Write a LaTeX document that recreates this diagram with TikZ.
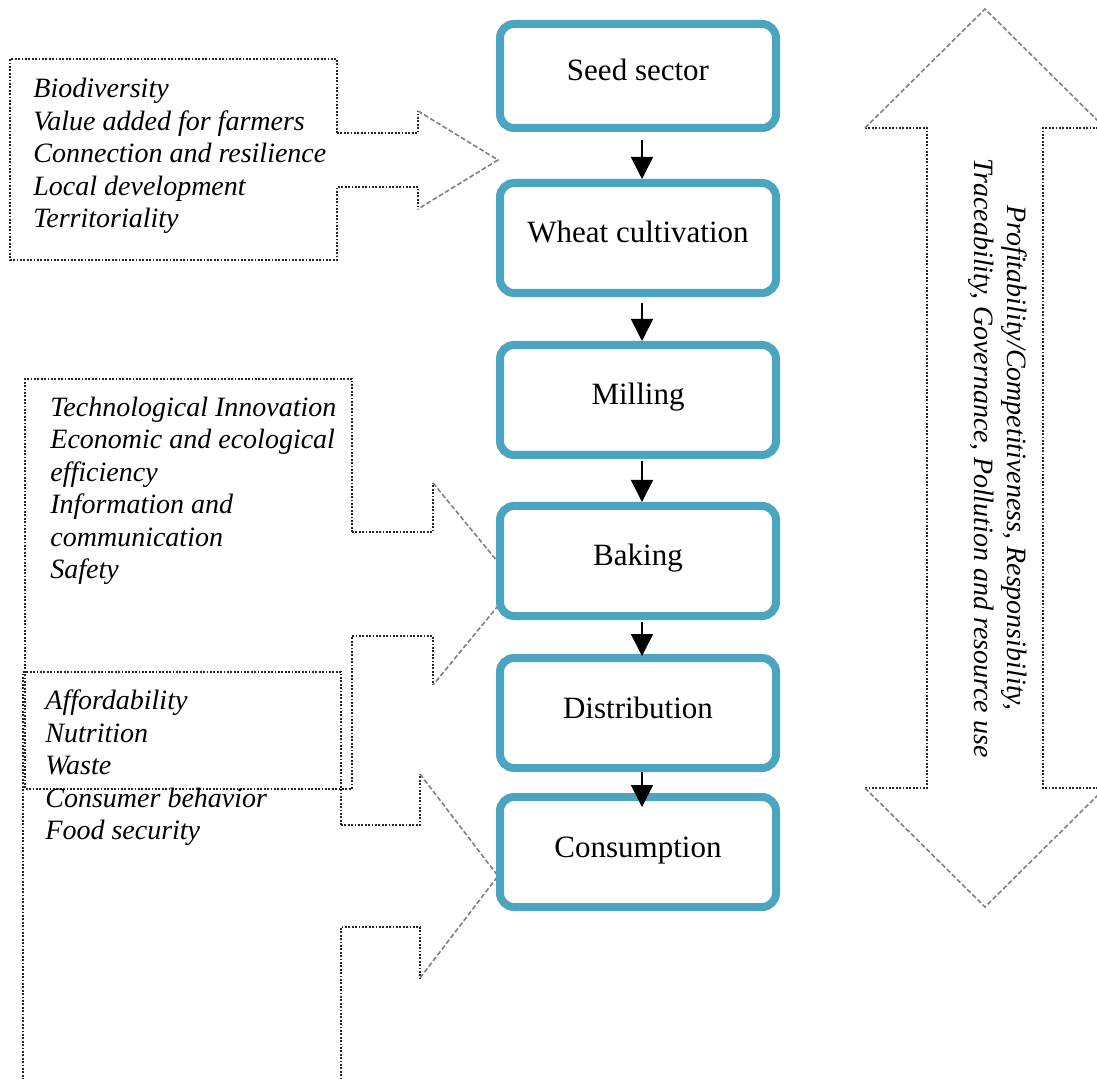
\documentclass[tikz,border=0pt]{standalone}
\usepackage{fontspec}
\setmainfont{Liberation Serif}
\usepackage{tikz}
\usetikzlibrary{arrows.meta}
\definecolor{stageteal}{RGB}{75,165,192}
\newcommand{\ColX}{638}
\newcommand{\ArrowShift}{2pt}
\tikzset{
  stage/.style={
    draw=stageteal,line width=4pt,rounded corners=7pt,fill=white,
    minimum width=138pt,minimum height=55pt,inner sep=0pt,
    text height=11pt,text depth=6pt,
    font=\fontsize{15.5}{18}\selectfont
  },
  flow/.style={
    line width=0.8pt,-{Triangle[width=11pt,length=11pt]}
  },
  calloutline/.style={
    line width=0.9pt,dash pattern=on 0.9pt off 0.8pt,black!85
  },
  calloutdiag/.style={
    line width=0.8pt,dash pattern=on 2.4pt off 1.2pt,black!50
  },
  callouttext/.style={
    anchor=west,align=left,inner sep=0pt,
    font=\fontsize{14}{16.25}\selectfont\itshape
  },
  sidetext/.style={
    align=center,inner sep=0pt,
    font=\fontsize{14}{16.5}\selectfont\itshape
  }
}
\newcommand{\DrawCallout}[9]{%
  \draw[calloutline] (#3,#5-#6) -- (#3,#2) -- (#1,#2) -- (#1,#4) -- (#3,#4)
    -- (#3,#5+#6) -- (#8,#5+#6) -- (#8,#5+#7);
  \draw[calloutline] (#3,#5-#6) -- (#8,#5-#6) -- (#8,#5-#7);
  \draw[calloutdiag] (#8,#5-#7) -- (#9,#5) -- (#8,#5+#7);
}
\newcommand{\DrawBothWays}[7]{%
  \draw[calloutline] (#1-#6,#3) -- (#1-#7,#3) -- (#1-#7,#4) -- (#1-#6,#4);
  \draw[calloutline] (#1+#6,#3) -- (#1+#7,#3) -- (#1+#7,#4) -- (#1+#6,#4);
  \draw[calloutdiag] (#1-#6,#3) -- (#1,#2) -- (#1+#6,#3);
  \draw[calloutdiag] (#1-#6,#4) -- (#1,#5) -- (#1+#6,#4);
}
\begin{document}
\begin{tikzpicture}[x=0.5pt,y=-0.5pt]
  \useasboundingbox (0,0) rectangle (1097,1079);
  \clip (0,0) rectangle (1097,1079);

  \DrawCallout{10}{59}{337}{260}{160}{27}{49}{418}{498}
  \DrawCallout{25}{379}{352}{789}{584}{52}{101}{433}{516}
  \DrawCallout{23}{672}{341}{1100}{876}{51}{102}{420}{498}
  \DrawBothWays{985}{9}{128}{788}{907}{120}{58}

  \node[callouttext] (farmtext) at (33,156)
    {Biodiversity\\Value added for farmers\\Connection and resilience\\Local development\\Territoriality};
  \node[callouttext] (techtext) at (50,491)
    {Technological Innovation\\Economic and ecological\\efficiency\\Information and\\communication\\Safety};
  \node[callouttext] (foodtext) at (45,768)
    {Affordability\\Nutrition\\Waste\\Consumer behavior\\Food security};
  \node[sidetext,rotate=-90] (chaintext) at (998,458)
    {Profitability/Competitiveness, Responsibility,\\Traceability, Governance, Pollution and resource use};

  \node[stage,minimum height=52pt] (seed) at (\ColX,76) {Seed sector};
  \node[stage] (wheat) at (\ColX,238) {Wheat cultivation};
  \node[stage] (milling) at (\ColX,400) {Milling};
  \node[stage] (baking) at (\ColX,561) {Baking};
  \node[stage] (dist) at (\ColX,713) {Distribution};
  \node[stage] (cons) at (\ColX,852) {Consumption};

  \foreach \from/\to/\gap/\over in {seed/wheat/4pt/0pt,wheat/milling/3pt/0pt,
    milling/baking/1pt/0pt,baking/dist/1pt/1pt,dist/cons/0pt/7pt}
    \draw[flow] ([xshift=\ArrowShift,yshift=-\gap]\from.south)
      -- ([xshift=\ArrowShift,yshift=-\over]\to.north);
\end{tikzpicture}
\end{document}
